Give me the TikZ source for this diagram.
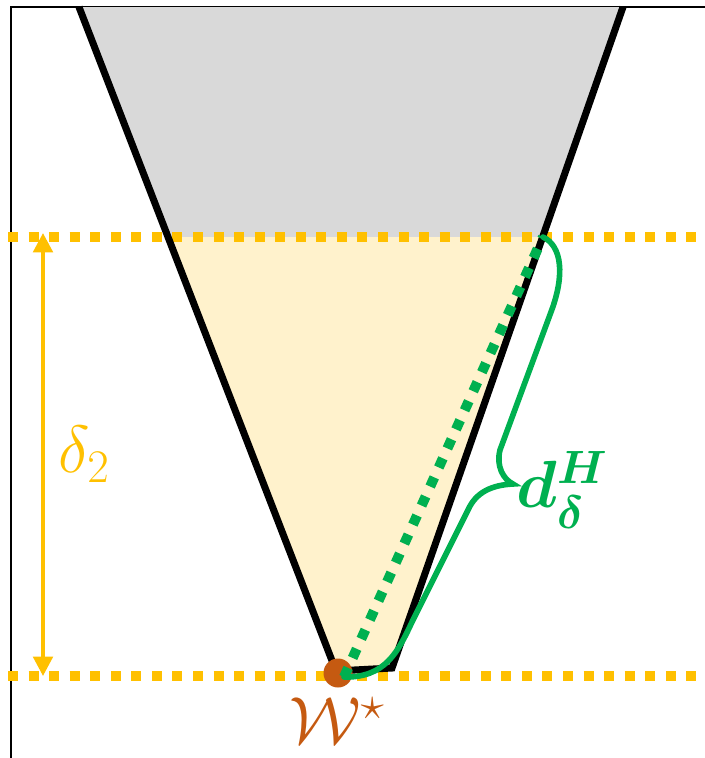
\RequirePackage{fix-cm}
\documentclass[tikz,border=0pt]{standalone}
\usepackage{amsmath}
\usetikzlibrary{arrows.meta}

\definecolor{gold}{HTML}{FFC000}
\definecolor{hgreen}{HTML}{00B050}
\definecolor{rust}{HTML}{C55A11}
\definecolor{conegray}{HTML}{D9D9D9}
\definecolor{coneyellow}{HTML}{FFF2CC}

\tikzset{
  levelline/.style={gold, line width=5.7pt, dash pattern=on 5.7pt off 6pt},
  coneline/.style={black, line width=4pt},
  hline/.style={hgreen, line width=5.7pt, dash pattern=on 5.7pt off 6.2pt},
  bracepath/.style={hgreen, line width=3.2pt, line cap=round},
  label/.style={inner sep=0pt, font=\fontsize{38}{44}\selectfont}
}

\begin{document}
\begin{tikzpicture}[x=0.02cm, y=-0.02cm]
        \useasboundingbox (0,0) rectangle (705,758);
        \coordinate (tl) at (79,7);
        \coordinate (tr) at (623,7);
        \coordinate (ml) at (168.5,237);
        \coordinate (mr) at (543,237);
        \coordinate (bl) at (336,671);
        \coordinate (br) at (392,668);
        \coordinate (w) at (338,673);
        \coordinate (ws) at (344,677);
        % frame and cone
        \draw[line width=1.2pt] (11,758) -- (11,7) -- (705,7);
        \fill[conegray] (tl) -- (tr) -- (mr) -- (ml) -- cycle;
        \fill[coneyellow] (ml) -- (mr) -- (br) -- (bl) -- cycle;
        % levels
        \coordinate (upa) at (8,237);
        \coordinate (upb) at (705,237);
        \coordinate (loa) at (8,675.5);
        \coordinate (lob) at (705,675.5);
        \draw[levelline] (upa) -- (upb);
        \draw[levelline] (loa) -- (lob);
        \draw[coneline] (tl) -- (bl) -- (br) -- (tr);
        % height of the band
        \coordinate (ar1) at (43,233);
        \coordinate (ar2) at (43,676);
        \draw[gold, line width=2.3pt, {Triangle[width=11pt,length=11pt]}-{Triangle[width=11pt,length=11pt]}] (ar1) -- (ar2);
        \node[label, text=gold] (dlt) at (84,454) {$\delta_2$};
        % optimum and distance
        \fill[rust] (w) circle (14.5);
        \draw[hline] (ws) -- (mr);
        \draw[bracepath] (ws) .. controls (385,678) and (398,652) .. (412,622)
            -- (468,510) .. controls (476,492) and (492,485) .. (513,484)
            .. controls (503,479) and (496,466) .. (500,450)
            -- (551,312) .. controls (565,275) and (562,246) .. (mr);
        \node[label, text=hgreen] (dlab) at (562,490) {$\boldsymbol{d_{\delta}^{H}}$};
        \node[label, text=rust] (wlab) at (337,721) {$\mathcal{W}^{\star}$};
\end{tikzpicture}
\end{document}
